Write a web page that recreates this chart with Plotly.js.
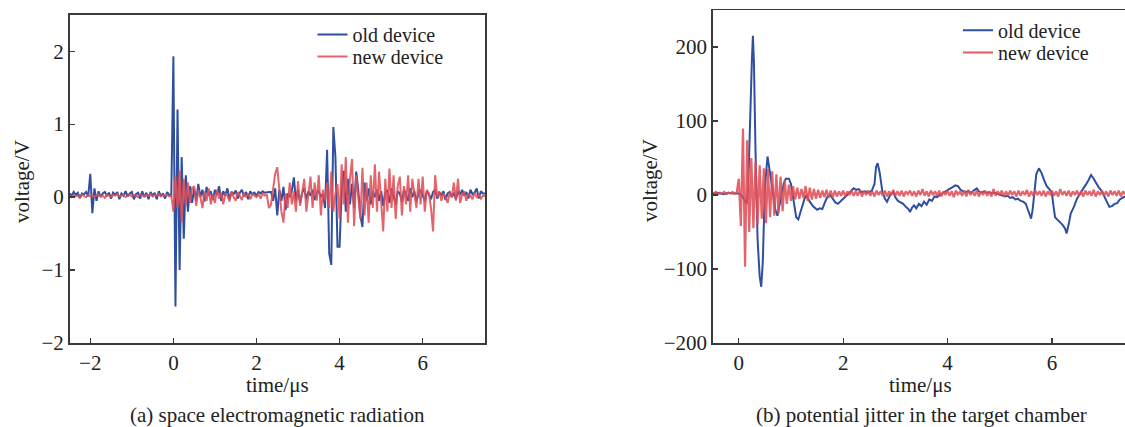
<!DOCTYPE html>
<html>
<head>
<meta charset="utf-8">
<script src="https://cdn.plot.ly/plotly-3.0.1.min.js"></script>
<style>html,body{margin:0;padding:0;background:#fff;}#chart{width:1125px;height:427px;}</style>
</head>
<body>
<div id="chart"></div>
<script>
// ---------- data ----------
// (a) left panel, sampled every 0.05 µs starting at -2.5 µs
const leftStart = -2.5;
const leftStep = 0.05;
const leftOld = [
  0.05, 0.02, 0.07, 0.03, 0.06, -0.01, 0.05, 0.04, 0.07, 0.01,
  0.32, -0.22, 0.12, -0.05, 0.08, 0.00, 0.05, 0.07, 0.02, 0.06,
  -0.02, 0.06, 0.03, 0.07, -0.03, 0.05, 0.02, 0.08, 0.01, 0.05,
  0.07, -0.03, 0.04, 0.06, -0.02, 0.08, 0.00, 0.06, -0.03, 0.07,
  0.02, 0.06, -0.03, 0.08, 0.01, 0.05, -0.02, 0.07, 0.03, 0.02,
  1.93, -1.5, 1.2, -1.0, 0.55, -0.57, 0.3, -0.2, 0.15, -0.08,
  0.12, -0.05, 0.18, 0.0, 0.1, -0.06, 0.14, 0.02, 0.08, -0.04,
  0.1, 0.03, 0.15, -0.05, 0.08, 0.02, 0.12, -0.03, 0.07, 0.04,
  0.09, -0.02, 0.06, 0.1, 0.01, 0.07, -0.03, 0.08, 0.04, 0.06,
  0.02, 0.07, 0.05, 0.08, 0.06, 0.07, 0.07, 0.07, -0.05, 0.12,
  -0.25, 0.1, -0.05, 0.14, -0.18, 0.05, 0.0, 0.08, 0.27, -0.05,
  0.1, -0.08, 0.06, 0.12, -0.03, 0.08, 0.02, 0.1, -0.04, 0.06,
  0.08, 0.0, 0.05, -0.15, 0.65, -0.77, -0.93, 0.96, 0.55, -0.68,
  -0.68, 0.1, 0.36, -0.2, 0.25, -0.1, 0.18, -0.15, 0.35, 0.1,
  -0.25, -0.41, 0.2, -0.05, 0.12, -0.1, 0.08, 0.0, 0.1, -0.05,
  0.08, -0.12, 0.06, 0.1, -0.08, 0.12, 0.02, -0.1, 0.08, 0.05,
  -0.06, 0.1, 0.03, -0.05, 0.12, 0.0, 0.08, -0.07, 0.06, 0.1,
  0.02, -0.05, 0.08, 0.04, -0.03, 0.07, 0.1, -0.02, 0.06, 0.03,
  0.08, -0.04, 0.05, 0.07, 0.0, 0.06, -0.03, 0.08, 0.03, 0.1,
  0.02, 0.07, -0.02, 0.1, 0.04, 0.06, 0.12, -0.02, 0.08, 0.05,
  0.05
];
const leftNew = [
  0.02, 0.0, 0.03, 0.01, 0.02, -0.01, 0.03, 0.02, 0.0, 0.03,
  0.01, 0.03, 0.0, 0.02, 0.04, 0.01, 0.02, -0.01, 0.03, 0.02,
  0.0, 0.03, 0.02, 0.04, 0.01, 0.02, 0.03, 0.0, 0.02, 0.03,
  0.01, 0.03, 0.02, 0.0, 0.04, 0.02, 0.01, 0.03, 0.02, 0.04,
  0.01, 0.03, 0.02, 0.04, 0.01, 0.03, 0.02, 0.03, 0.01, 0.02,
  -0.2, 0.28, -0.15, 0.36, -0.34, 0.25, -0.12, 0.2, -0.08, 0.12,
  0.15, -0.12, 0.1, 0.0, -0.15, 0.08, -0.05, 0.12, -0.1, 0.04,
  -0.08, 0.1, -0.02, 0.06, -0.1, 0.05, 0.02, -0.06, 0.08, 0.0,
  -0.05, 0.07, 0.02, -0.04, 0.06, 0.0, 0.05, -0.03, 0.04, 0.02,
  0.0, 0.04, -0.02, 0.05, 0.02, 0.03, -0.15, -0.1, 0.15, 0.32,
  0.41, 0.1, -0.2, -0.35, 0.05, -0.15, 0.2, -0.1, 0.08, -0.2,
  0.22, -0.12, 0.1, 0.25, -0.2, 0.05, 0.28, -0.15, 0.2, -0.05,
  0.3, -0.25, 0.1, -0.05, 0.2, -0.15, 0.35, -0.2, 0.05, 0.18,
  -0.3, 0.45, -0.1, 0.55, -0.35, 0.25, 0.52, -0.4, 0.3, 0.0,
  -0.3, 0.4, -0.25, 0.2, -0.35, 0.3, -0.15, 0.45, -0.2, 0.35,
  -0.1, -0.47, 0.25, -0.2, 0.39, -0.15, 0.3, -0.3, 0.15, 0.28,
  -0.25, 0.15, -0.1, 0.3, -0.2, 0.25, 0.05, -0.15, 0.25, -0.1,
  0.28, -0.2, 0.1, 0.05, -0.15, -0.47, 0.3, 0.0, 0.08, -0.05,
  0.05, 0.0, -0.08, 0.06, 0.0, 0.2, -0.05, 0.25, -0.08, 0.03,
  0.08, -0.05, 0.04, 0.02, -0.03, 0.06, 0.0, 0.03, -0.02, 0.02,
  0.01
];

// (b) right panel, old device (irregular time points, µs)
const rightOldTime = [
  -0.5, -0.4, -0.3, -0.2, -0.1, 0, 0.05, 0.1, 0.15, 0.18,
  0.22, 0.25, 0.27, 0.29, 0.32, 0.36, 0.4, 0.43, 0.46, 0.5,
  0.55, 0.58, 0.62, 0.66, 0.7, 0.74, 0.78, 0.82, 0.86, 0.9,
  0.96, 1.0, 1.05, 1.1, 1.14, 1.2, 1.26, 1.3, 1.35, 1.42,
  1.5, 1.55, 1.6, 1.65, 1.7, 1.75, 1.8, 1.85, 1.9, 1.95,
  2.0, 2.05, 2.1, 2.15, 2.2, 2.25, 2.3, 2.35, 2.42, 2.48,
  2.55, 2.6, 2.63, 2.66, 2.7, 2.75, 2.8, 2.84, 2.9, 2.96,
  3.0, 3.05, 3.1, 3.15, 3.2, 3.25, 3.28, 3.32, 3.36, 3.4,
  3.45, 3.5, 3.55, 3.6, 3.65, 3.7, 3.75, 3.8, 3.85, 3.9,
  3.95, 4.0, 4.05, 4.1, 4.15, 4.2, 4.25, 4.3, 4.35, 4.4,
  4.45, 4.5, 4.56, 4.6, 4.65, 4.7, 4.75, 4.8, 4.85, 4.9,
  5.0, 5.05, 5.1, 5.15, 5.2, 5.25, 5.3, 5.35, 5.4, 5.45,
  5.5, 5.55, 5.6, 5.63, 5.67, 5.7, 5.75, 5.8, 5.85, 5.9,
  5.95, 6.0, 6.03, 6.06, 6.1, 6.15, 6.2, 6.25, 6.28, 6.32,
  6.36, 6.42, 6.48, 6.54, 6.6, 6.65, 6.7, 6.75, 6.8, 6.85,
  6.9, 6.95, 7.0, 7.05, 7.1, 7.15, 7.2, 7.25, 7.3, 7.35,
  7.4
];
const rightOld = [
  2, 3, 1, 3, 2, 2, 0, -6, -12, 10,
  120, 180, 215, 180, 60, -60, -110, -124, -90, 10,
  52, 40, 20, 0, -20, -28, -15, 0, 15, 22,
  22, 15, -10, -30, -33, -20, -5, 0, -8, -15,
  -20, -18, -19, -10, -2, 0, -5, -10, -12, -8,
  -5, -2, 2, 5, 9, 7, 8, 4, 5, 3,
  6, 15, 38, 43, 30, 5, -5, -9, 0, 4,
  -3, -8, -10, -12, -16, -19, -23, -17, -14, -18,
  -12, -15, -9, -13, -6, -8, -2, -3, 0, 2,
  4, 7, 9, 11, 13, 12, 7, 5, 4, 5,
  3, 6, 9, 5, 3, 5, 3, 4, 2, 3,
  1, 0, -2, -1, -4, -3, -6, -5, -8, -9,
  -12, -22, -32, -20, 10, 28, 36, 30, 20, 12,
  8, 2, -15, -30, -33, -36, -40, -45, -52, -40,
  -25, -16, -5, 2, 8, 14, 20, 27, 22, 15,
  10, 6, -2, -10, -16, -15, -12, -11, -6, -4,
  -2
];

// (b) right panel, new device, sampled every 0.04 µs starting at -0.48 µs
const rightNewStart = -0.48;
const rightNewStep = 0.04;
const rightNew = [
  2, 4, 1, 3, 2, 4, 1, 3, 2, 4, 2, 3,
  22, -42, 90, -97, 74, -50, 50, -45, 45, -40,
  40, -32, 36, -38, 35, -30, 32, -28, 28, -25,
  25, -22, 20, -12, 14, -8, 12, -6, 10, -5,
  8, -4, 12, -8, 10, -6, 8, -5, 7, -4,
  6, -3, 7, -4, 6, -3,
  6, -2, 5, -1, 6, -2, 5, 0, 6, -1,
  5, -1, 7, -2, 5, 0, 6, -1, 5, -2,
  6, 0, 5, -1, 6, -2, 5, 0, 7, -1,
  5, -1, 6, -2, 5, 1, 6, -1, 5, -2,
  6, 0, 8, -1, 5, -2, 6, 0, 5, -1,
  6, -2, 5, 0, 6, -1, 5, -3, 6, 0,
  5, -1, 6, -2, 7, 0, 5, -1, 6, -2,
  5, 0, 6, -1, 5, -2, 8, -1, 5, 0,
  6, -2, 5, -1, 6, 0, 5, -2, 6, -1,
  5, 0, 7, -2, 5, -1, 6, 0, 5, -1,
  6, -2, 5, 0, 6, -1, 5, -2, 8, 0,
  5, -1, 6, -2, 5, 0, 6, -1, 5, -2,
  6, 0, 5, -1, 7, -2, 5, 0, 6, -1,
  5, -2, 6, 0, 5, -1, 6, -2, 5, 1
];

const seriesNames = ["old device", "new device"];
const leftXTicks = [-2, 0, 2, 4, 6];
const leftYTicks = [-2, -1, 0, 1, 2];
const rightXTicks = [0, 2, 4, 6];
const rightYTicks = [-200, -100, 0, 100, 200];
const xTitle = "time/μs";
const yTitle = "voltage/V";
const captions = ["(a) space electromagnetic radiation", "(b) potential jitter in the target chamber"];

// ---------- styling ----------
const W = 1125, H = 427;
const px = v => v / W;
const py = v => 1 - v / H;
const FONT = "Liberation Serif";
const BLUE = "#2f4f9f";
const RED = "rgba(224,78,88,0.88)";
const AXC = "#3a3a3a";

const traces = [
  {x0: leftStart, dx: leftStep, y: leftOld, type: "scatter", mode: "lines", name: seriesNames[0],
   line: {color: BLUE, width: 2}, xaxis: "x", yaxis: "y", legend: "legend"},
  {x0: leftStart, dx: leftStep, y: leftNew, type: "scatter", mode: "lines", name: seriesNames[1],
   line: {color: RED, width: 2}, xaxis: "x", yaxis: "y", legend: "legend2"},
  {x: rightOldTime, y: rightOld, type: "scatter", mode: "lines", name: seriesNames[0],
   line: {color: BLUE, width: 2}, xaxis: "x2", yaxis: "y2", legend: "legend3"},
  {x0: rightNewStart, dx: rightNewStep, y: rightNew, type: "scatter", mode: "lines", name: seriesNames[1],
   line: {color: RED, width: 2.2}, xaxis: "x2", yaxis: "y2", legend: "legend4"}
];

const tickfont = {family: FONT, size: 21, color: "#222"};
const axBase = {showgrid: false, zeroline: false, showline: true, linecolor: AXC, linewidth: 1.5,
  ticks: "inside", ticklen: 5, tickwidth: 1.2, tickcolor: AXC, tickfont: tickfont, fixedrange: true};

const legFont = {family: FONT, size: 20, color: "#222"};
function leg(xp, yp) {
  return {x: px(xp), y: py(yp), xanchor: "left", yanchor: "middle", bgcolor: "rgba(0,0,0,0)",
    borderwidth: 0, font: legFont};
}

const annFont = {family: FONT, size: 21, color: "#222"};
function ann(text, xp, yp, angle) {
  return {text: text, xref: "paper", yref: "paper", x: px(xp), y: py(yp), xanchor: "center", yanchor: "middle",
    showarrow: false, font: annFont, textangle: angle || 0};
}

const layout = {
  width: W, height: H,
  margin: {l: 0, r: 0, t: 0, b: 0},
  paper_bgcolor: "#fff", plot_bgcolor: "#fff",
  showlegend: true,
  xaxis: Object.assign({}, axBase, {domain: [px(69.5), px(485)], range: [-2.5, 7.5], tickvals: leftXTicks, mirror: true, anchor: "y"}),
  yaxis: Object.assign({}, axBase, {domain: [py(343), py(14.7)], range: [-2, 2.5], tickvals: leftYTicks, mirror: true, anchor: "x"}),
  xaxis2: Object.assign({}, axBase, {domain: [px(712.7), 1], range: [-0.5, 7.4], tickvals: rightXTicks, mirror: true, anchor: "y2"}),
  yaxis2: Object.assign({}, axBase, {domain: [py(343), py(10)], range: [-200, 250], tickvals: rightYTicks, mirror: false, anchor: "x2"}),
  legend: leg(312.5, 34.4),
  legend2: leg(312.5, 56.6),
  legend3: leg(958, 30.3),
  legend4: leg(958, 52.5),
  annotations: [
    ann(xTitle, 277.5, 385),
    ann(xTitle, 920, 385),
    ann(yTitle, 22, 182, -90),
    ann(yTitle, 650, 180, -90),
    ann(captions[0], 277.5, 415),
    ann(captions[1], 921, 415)
  ]
};

Plotly.newPlot("chart", traces, layout, {displayModeBar: false, staticPlot: true});
</script>
</body>
</html>
